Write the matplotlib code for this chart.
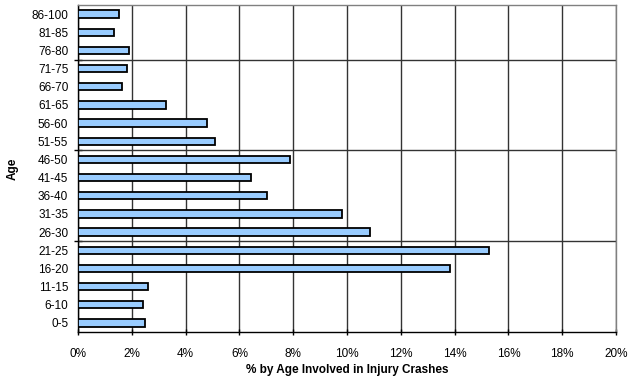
import matplotlib
matplotlib.use("Agg")
import matplotlib.pyplot as plt
from matplotlib.ticker import FuncFormatter

plt.rcParams['font.family'] = ['Liberation Sans', 'DejaVu Sans']

age_groups = ["0-5", "6-10", "11-15", "16-20", "21-25", "26-30", "31-35", "36-40",
              "41-45", "46-50", "51-55", "56-60", "61-65", "66-70", "71-75", "76-80",
              "81-85", "86-100"]
pct_injury = [2.50, 2.40, 2.59, 13.84, 15.27, 10.86, 9.80, 7.01,
              6.44, 7.88, 5.09, 4.81, 3.27, 1.64, 1.82, 1.91,
              1.35, 1.54]
x_ticks = [0, 2, 4, 6, 8, 10, 12, 14, 16, 18, 20]

fig = plt.figure(figsize=(6.38, 3.80), dpi=100)
ax = fig.add_axes([78 / 638, 1 - 332 / 380, (616 - 78) / 638, (332 - 5) / 380])

ypos = list(range(len(age_groups)))
ax.barh(ypos, pct_injury, height=0.4, color="#99CCFF", edgecolor="black",
        linewidth=1.3, zorder=3)

ax.set_xlim(0, 20)
ax.set_ylim(-0.5, len(age_groups) - 0.5)
ax.set_xticks(x_ticks)
ax.xaxis.set_major_formatter(FuncFormatter(lambda v, p: f"{v:.0f}%"))
ax.set_yticks(ypos)
ax.set_yticklabels(age_groups)
ax.tick_params(axis="y", which="major", length=0, pad=7, labelsize=8.5)
ax.tick_params(axis="x", which="major", length=5, direction="inout", pad=9,
               labelsize=8.5, width=1)

# horizontal gridlines every five age groups, with tick marks on the axis
boundaries = [4.5, 9.5, 14.5]
ax.set_yticks(boundaries, minor=True)
ax.tick_params(axis="y", which="minor", length=6, direction="inout", width=1)
for b in boundaries:
    ax.axhline(b, color="#333333", linewidth=1, zorder=1)

ax.grid(axis="x", color="#333333", linewidth=1, zorder=1)
ax.set_axisbelow(True)

for side in ("top", "right"):
    ax.spines[side].set_color("#808080")
    ax.spines[side].set_linewidth(1)
for side in ("left", "bottom"):
    ax.spines[side].set_color("black")
    ax.spines[side].set_linewidth(1)

ax.set_xlabel("% by Age Involved in Injury Crashes", fontsize=8.5, fontweight="bold",
              labelpad=3)
ax.set_ylabel("Age", fontsize=8.5, fontweight="bold", labelpad=9)

fig.savefig("out.png", dpi=100)
